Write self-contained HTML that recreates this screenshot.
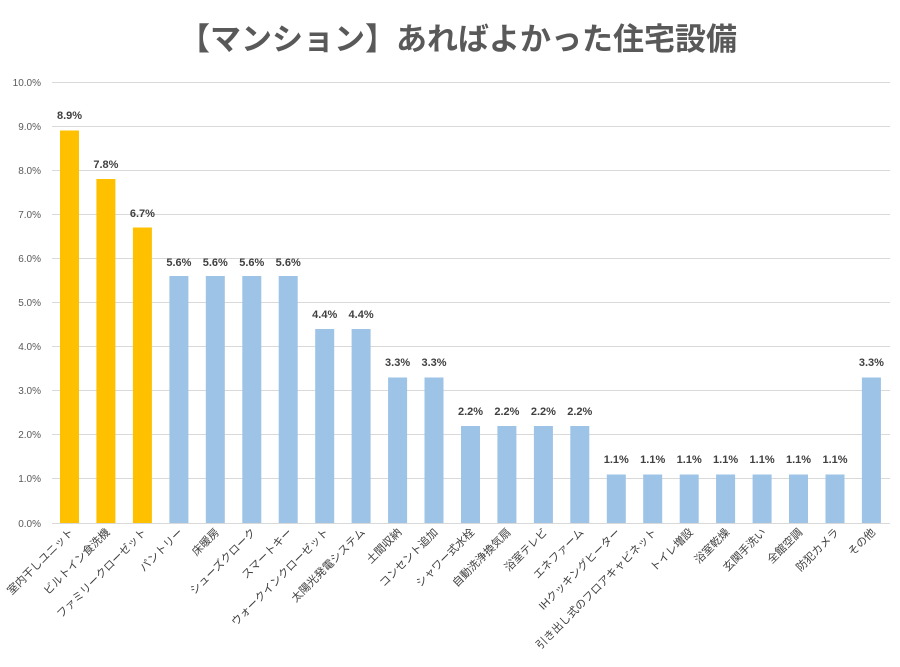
<!DOCTYPE html>
<html><head><meta charset="utf-8"><style>
html,body{margin:0;padding:0;background:#fff;width:900px;height:667px;overflow:hidden}
svg text{font-family:"Liberation Sans","Noto Sans CJK JP",sans-serif}
</style></head><body>
<svg width="900" height="667" viewBox="0 0 900 667" xmlns="http://www.w3.org/2000/svg">
<text x="458" y="50" text-anchor="middle" font-size="31" font-weight="bold" fill="#595959">【マンション】あればよかった住宅設備</text>
<g stroke="#d9d9d9" stroke-width="1">
<line x1="52" x2="890" y1="82.5" y2="82.5"/><line x1="52" x2="890" y1="126.5" y2="126.5"/>
<line x1="52" x2="890" y1="170.5" y2="170.5"/><line x1="52" x2="890" y1="214.5" y2="214.5"/>
<line x1="52" x2="890" y1="258.5" y2="258.5"/><line x1="52" x2="890" y1="302.5" y2="302.5"/>
<line x1="52" x2="890" y1="346.5" y2="346.5"/><line x1="52" x2="890" y1="390.5" y2="390.5"/>
<line x1="52" x2="890" y1="434.5" y2="434.5"/><line x1="52" x2="890" y1="478.5" y2="478.5"/>
<line x1="52" x2="890" y1="523.5" y2="523.5"/>
</g>
<g font-size="10" fill="#595959" text-anchor="end">
<text x="41" y="86">10.0%</text><text x="41" y="130">9.0%</text><text x="41" y="174">8.0%</text>
<text x="41" y="218">7.0%</text><text x="41" y="262">6.0%</text><text x="41" y="306">5.0%</text>
<text x="41" y="350">4.0%</text><text x="41" y="394">3.0%</text><text x="41" y="438">2.0%</text>
<text x="41" y="482">1.0%</text><text x="41" y="527">0.0%</text>
</g>
<g fill="#ffc000">
<rect x="60" y="130.5" width="19" height="392.5"/>
<rect x="96.4" y="179" width="19" height="344"/>
<rect x="132.9" y="227.5" width="19" height="295.5"/>
</g>
<g fill="#9dc3e6">
<rect x="169.4" y="276" width="19" height="247"/>
<rect x="205.8" y="276" width="19" height="247"/>
<rect x="242.3" y="276" width="19" height="247"/>
<rect x="278.7" y="276" width="19" height="247"/>
<rect x="315.2" y="329" width="19" height="194"/>
<rect x="351.6" y="329" width="19" height="194"/>
<rect x="388.1" y="377.5" width="19" height="145.5"/>
<rect x="424.5" y="377.5" width="19" height="145.5"/>
<rect x="461" y="426" width="19" height="97"/>
<rect x="497.4" y="426" width="19" height="97"/>
<rect x="533.9" y="426" width="19" height="97"/>
<rect x="570.3" y="426" width="19" height="97"/>
<rect x="606.8" y="474.5" width="19" height="48.5"/>
<rect x="643.2" y="474.5" width="19" height="48.5"/>
<rect x="679.7" y="474.5" width="19" height="48.5"/>
<rect x="716.1" y="474.5" width="19" height="48.5"/>
<rect x="752.6" y="474.5" width="19" height="48.5"/>
<rect x="789" y="474.5" width="19" height="48.5"/>
<rect x="825.5" y="474.5" width="19" height="48.5"/>
<rect x="861.9" y="377.5" width="19" height="145.5"/>
</g>
<g font-size="11" font-weight="bold" fill="#404040" text-anchor="middle">
<text x="69.5" y="119">8.9%</text><text x="105.9" y="168">7.8%</text><text x="142.4" y="217">6.7%</text>
<text x="178.9" y="266">5.6%</text><text x="215.3" y="266">5.6%</text><text x="251.8" y="266">5.6%</text><text x="288.2" y="266">5.6%</text>
<text x="324.7" y="318">4.4%</text><text x="361.1" y="318">4.4%</text>
<text x="397.6" y="366">3.3%</text><text x="434" y="366">3.3%</text>
<text x="470.5" y="415">2.2%</text><text x="506.9" y="415">2.2%</text><text x="543.4" y="415">2.2%</text><text x="579.8" y="415">2.2%</text>
<text x="616.3" y="463">1.1%</text><text x="652.7" y="463">1.1%</text><text x="689.2" y="463">1.1%</text><text x="725.6" y="463">1.1%</text>
<text x="762.1" y="463">1.1%</text><text x="798.5" y="463">1.1%</text><text x="835" y="463">1.1%</text>
<text x="871.4" y="366">3.3%</text>
</g>
<g font-size="11" fill="#404040" text-anchor="end">
<text transform="translate(74,533) rotate(-45)">室内干しユニット</text>
<text transform="translate(110.4,533) rotate(-45)">ビルトイン食洗機</text>
<text transform="translate(146.9,533) rotate(-45)">ファミリークローゼット</text>
<text transform="translate(183.4,533) rotate(-45)">パントリー</text>
<text transform="translate(219.8,533) rotate(-45)">床暖房</text>
<text transform="translate(256.3,533) rotate(-45)">シューズクローク</text>
<text transform="translate(292.7,533) rotate(-45)">スマートキー</text>
<text transform="translate(329.2,533) rotate(-45)">ウォークインクローゼット</text>
<text transform="translate(365.6,533) rotate(-45)">太陽光発電システム</text>
<text transform="translate(402.1,533) rotate(-45)">土間収納</text>
<text transform="translate(438.5,533) rotate(-45)">コンセント追加</text>
<text transform="translate(475,533) rotate(-45)">シャワー式水栓</text>
<text transform="translate(511.4,533) rotate(-45)">自動洗浄換気扇</text>
<text transform="translate(547.9,533) rotate(-45)">浴室テレビ</text>
<text transform="translate(584.3,533) rotate(-45)">エネファーム</text>
<text transform="translate(620.8,533) rotate(-45)">IHクッキングヒーター</text>
<text transform="translate(657.2,533) rotate(-45)">引き出し式のフロアキャビネット</text>
<text transform="translate(693.7,533) rotate(-45)">トイレ増設</text>
<text transform="translate(730.1,533) rotate(-45)">浴室乾燥</text>
<text transform="translate(766.6,533) rotate(-45)">玄関手洗い</text>
<text transform="translate(803,533) rotate(-45)">全館空調</text>
<text transform="translate(839.5,533) rotate(-45)">防犯カメラ</text>
<text transform="translate(875.9,533) rotate(-45)">その他</text>
</g>
</svg>
</body></html>
